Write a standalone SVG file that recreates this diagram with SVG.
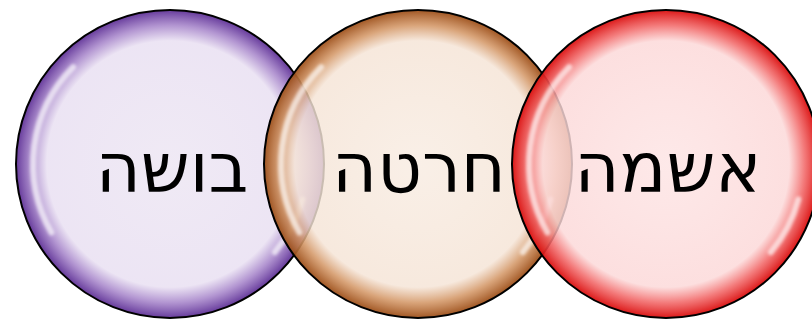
<svg xmlns="http://www.w3.org/2000/svg" width="812" height="320" viewBox="0 0 812 320">
  <defs>
    <radialGradient id="gPurple" cx="0.5" cy="0.5" r="0.5">
      <stop offset="0" stop-color="#ede6f3" stop-opacity="0.85"/>
      <stop offset="0.8" stop-color="#e9e0f2" stop-opacity="0.85"/>
      <stop offset="0.9" stop-color="#a887cb" stop-opacity="0.88"/>
      <stop offset="1" stop-color="#5e3096" stop-opacity="0.95"/>
    </radialGradient>
    <radialGradient id="gOrange" cx="0.5" cy="0.5" r="0.5">
      <stop offset="0" stop-color="#f8ece2" stop-opacity="0.82"/>
      <stop offset="0.8" stop-color="#f5e4d6" stop-opacity="0.82"/>
      <stop offset="0.9" stop-color="#d49868" stop-opacity="0.88"/>
      <stop offset="1" stop-color="#9c4e18" stop-opacity="0.95"/>
    </radialGradient>
    <radialGradient id="gRed" cx="0.5" cy="0.5" r="0.5">
      <stop offset="0" stop-color="#fde4e4" stop-opacity="0.82"/>
      <stop offset="0.8" stop-color="#fcd8d8" stop-opacity="0.82"/>
      <stop offset="0.9" stop-color="#f26a6a" stop-opacity="0.88"/>
      <stop offset="1" stop-color="#da0c0c" stop-opacity="0.95"/>
    </radialGradient>
    <filter id="soft" x="-20%" y="-20%" width="140%" height="140%">
      <feGaussianBlur stdDeviation="1.8"/>
    </filter>
    <path id="hlLeft" d="M-96.9,-96.9 A137,137 0 0 0 -118.6,68.5"/>
    <path id="hlRight" d="M132.3,35.5 A137,137 0 0 1 104.9,88.1"/>
  </defs>
  <style>
    .bubble { stroke: #000; stroke-width: 2; }
    .hl { fill: none; stroke: #ffffff; stroke-width: 6; stroke-linecap: round; stroke-opacity: 0.65; filter: url(#soft); }
    .lbl { font-family: "DejaVu Sans", "Liberation Sans", sans-serif; font-size: 69px; fill: #000; text-anchor: middle; }
  </style>
  <rect width="812" height="320" fill="#ffffff"/>
  <g id="connectors"/>
  <g id="node-busha" transform="translate(170,164)">
    <circle class="bubble" r="154" fill="url(#gPurple)"/>
    <use href="#hlLeft" class="hl"/>
    <use href="#hlRight" class="hl"/>
    <text class="lbl" x="2" y="28">בושה</text>
  </g>
  <g id="node-charata" transform="translate(418,164)">
    <circle class="bubble" r="154" fill="url(#gOrange)"/>
    <use href="#hlLeft" class="hl"/>
    <use href="#hlRight" class="hl"/>
    <text class="lbl" x="1" y="28">חרטה</text>
  </g>
  <g id="node-ashma" transform="translate(666,164)">
    <circle class="bubble" r="154" fill="url(#gRed)"/>
    <use href="#hlLeft" class="hl"/>
    <use href="#hlRight" class="hl"/>
    <text class="lbl" x="2" y="28">אשמה</text>
  </g>
</svg>
